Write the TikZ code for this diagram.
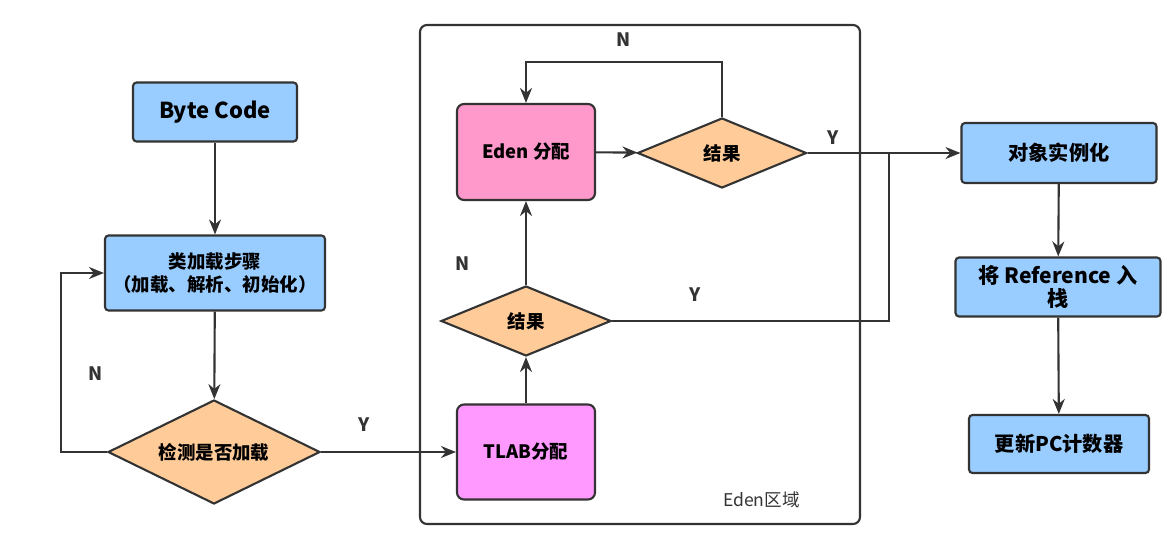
\documentclass[tikz,border=0pt]{standalone}
\usepackage{fontspec}
\setmainfont{Noto Sans CJK SC}
\usepackage{tikz}
\usetikzlibrary{
    shapes.geometric,
    arrows.meta
}
\definecolor{stepblue}{HTML}{99CCFF}
\definecolor{edenpink}{HTML}{FF99CC}
\definecolor{tlabpink}{HTML}{FF99FF}
\definecolor{testorange}{HTML}{FFCC99}
\definecolor{linegray}{HTML}{333333}
\tikzset{
    >={Stealth[length=3mm,width=2.4mm]},
    blockbox/.style={
        draw=linegray,
        line width=1.2pt,
        fill=stepblue,
        rounded corners=2pt,
        align=center,
        inner sep=2pt,
        font=\fontsize{10.5}{13}\selectfont\bfseries
    },
    decision/.style={
        diamond,
        draw=linegray,
        line width=1.2pt,
        fill=testorange,
        aspect=2,
        inner sep=0pt,
        font=\fontsize{10.5}{13}\selectfont\bfseries
    },
    flow/.style={
        color=linegray,
        line width=1.2pt
    },
    answer/.style={
        font=\fontsize{10.5}{13}\selectfont\bfseries,
        text=linegray
    },
    bigtext/.style={
        font=\fontsize{11.5}{13.5}\selectfont\bfseries
    }
}
\begin{document}
\begin{tikzpicture}[
    x=0.2mm,
    y=-0.2mm
]
    \useasboundingbox (0,0) rectangle (1164,558);

    % Eden area
    \node[draw=linegray, line width=1.2pt, rounded corners=4pt,
          minimum width=88mm, minimum height=99.8mm] (edenarea) at (640,274.5) {};
    \node[anchor=east, text=linegray, font=\fontsize{10}{12}\selectfont]
        (edenlabel) at (806,500) {Eden区域};

    % Left column
    \node[blockbox, minimum width=32.8mm, minimum height=11.8mm,
          font=\fontsize{12.5}{15}\selectfont\bfseries]
        (bytecode) at (215,112) {Byte Code};
    \node[blockbox, minimum width=44mm, minimum height=15mm]
        (loadstep) at (215,273) {类加载步骤\\（加载、解析、初始化）};
    \node[decision, minimum width=42.4mm, minimum height=20.8mm]
        (check) at (214,452) {检测是否加载};

    % Allocation
    \node[blockbox, fill=tlabpink, rounded corners=4pt,
          minimum width=27.6mm, minimum height=19mm]
        (tlab) at (526,452) {TLAB分配};
    \node[decision, minimum width=34mm, minimum height=14mm]
        (result1) at (526,321) {结果};
    \node[blockbox, fill=edenpink, rounded corners=4pt,
          minimum width=27.6mm, minimum height=19.2mm]
        (eden) at (526,152) {Eden 分配};
    \node[decision, minimum width=33.8mm, minimum height=14mm]
        (result2) at (722,153) {结果};

    % Right column
    \node[blockbox, bigtext, minimum width=39mm, minimum height=12mm]
        (instance) at (1059,153) {对象实例化};
    \node[blockbox, minimum width=41mm, minimum height=11.8mm,
          font=\fontsize{12}{13.5}\selectfont\bfseries]
        (pushref) at (1058,287) {将 Reference 入\\栈};
    \node[blockbox, bigtext, minimum width=36mm, minimum height=11.6mm]
        (updatepc) at (1059,444) {更新PC计数器};

    \coordinate (join) at (889,153);

    % Transitions
    \path[flow, ->]

        (bytecode)
            edge (loadstep)

        (loadstep)
            edge (check)

        (check.east)
            edge node[answer, pos=0.32, above=8pt] {Y} (tlab.west)

        (tlab)
            edge (result1)

        (result1)
            edge node[answer, pos=0.25, left=28pt] {N} (eden)

        (eden)
            edge (result2)

        (result2.east)
            edge node[answer, pos=0.17, above=1pt] {Y} (instance.west)

        (instance)
            edge (pushref)

        (pushref)
            edge (updatepc);

    \draw[flow, ->] (check.west) -- ++(-46,0)
        |- node[answer, pos=0.22, right=12pt] {N} (loadstep.west);
    \draw[flow, ->] (result2.north) -- ++(0,-55)
        -| node[answer, pos=0.25, above=5pt] {N} (eden.north);
    \draw[flow] (result1.east)
        -| node[answer, pos=0.15, above=7pt] {Y} (join);

\end{tikzpicture}
\end{document}
